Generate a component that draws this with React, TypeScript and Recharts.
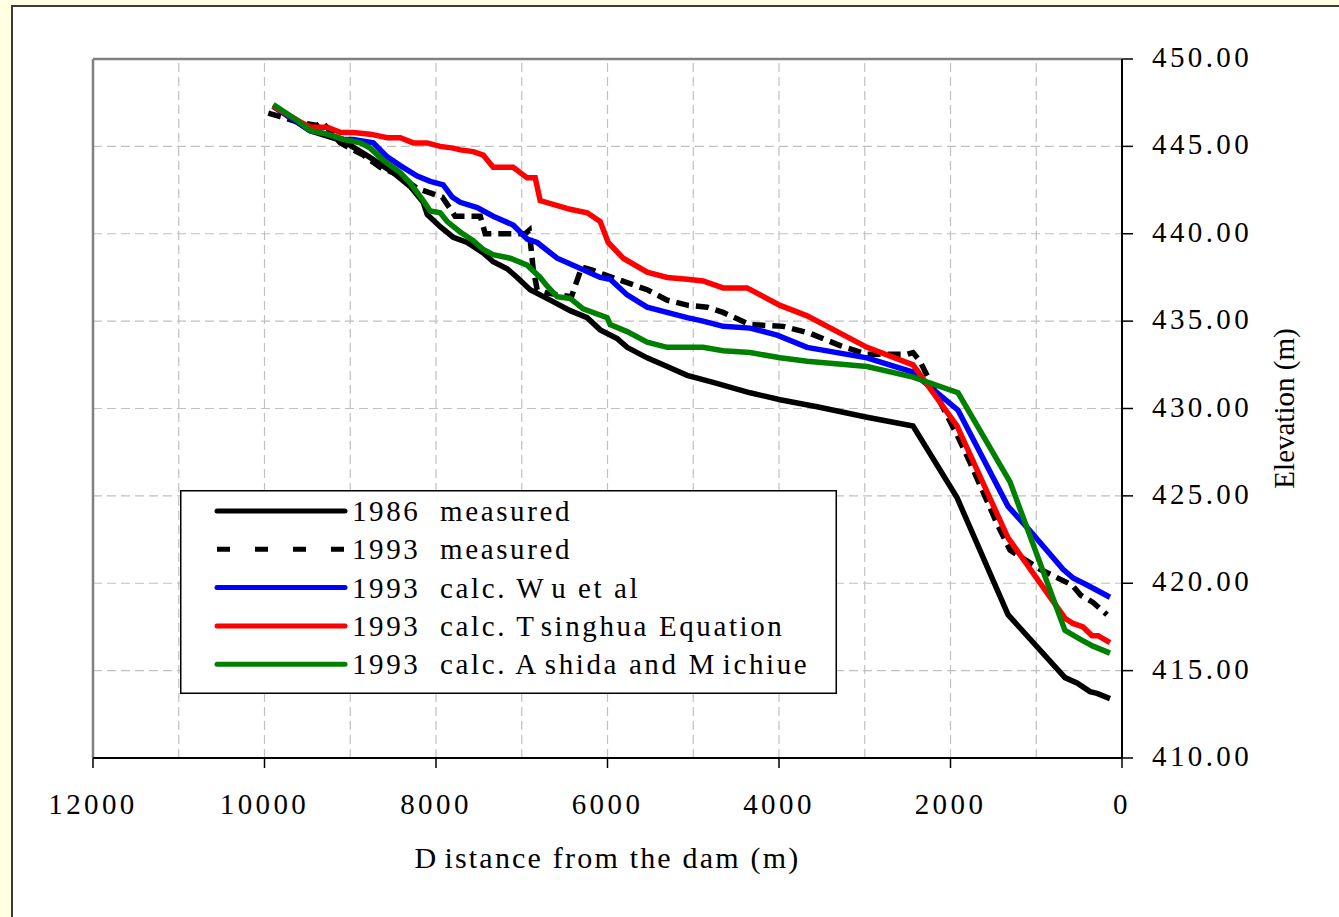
import React from 'react';
import { LineChart, Line, XAxis, YAxis, CartesianGrid, ReferenceLine, Legend, Label } from 'recharts';

const FONT = '"Liberation Serif", "Times New Roman", serif';

// ---- data (distance from the dam in m, elevation in m) ----
const dist1986 = [9900, 9470, 9080, 8780, 8499, 8300, 8149, 8102, 7951, 7799, 7636, 7449, 7333, 7170, 7053, 6902, 6668, 6435, 6237, 6085, 5887, 5771, 5538, 5304, 5071, 4768, 4337, 3987, 3556, 2973, 2437, 1924, 1329, 665, 525, 373, 291, 140];
const elev1986 = [447.3, 445.9, 445.3, 444.4, 443.5, 442.7, 441.8, 441.1, 440.4, 439.8, 439.5, 438.9, 438.4, 438.0, 437.5, 436.8, 436.2, 435.6, 435.2, 434.5, 434.0, 433.5, 432.9, 432.4, 431.9, 431.5, 430.9, 430.5, 430.1, 429.5, 429.0, 424.9, 418.2, 414.6, 414.3, 413.8, 413.7, 413.4];

const dist1993m = [9956, 9816, 9618, 9385, 9330, 9256, 9117, 8848, 8650, 8452, 8219, 7927, 7830, 7776, 7484, 7426, 6960, 6913, 6867, 6820, 6703, 6420, 6300, 6167, 6004, 5771, 5538, 5304, 5060, 4838, 4652, 4337, 3952, 3637, 3287, 2973, 2506, 2437, 2355, 2063, 1924, 1772, 1609, 1457, 1306, 956, 583, 478, 338, 175];
const elev1993m = [446.9, 446.7, 446.4, 446.2, 446.4, 446.0, 445.2, 444.5, 443.8, 443.4, 442.6, 442.1, 441.4, 441.0, 441.0, 440.0, 440.0, 440.2, 438.0, 436.8, 436.6, 436.4, 438.1, 437.9, 437.6, 437.2, 436.8, 436.2, 435.9, 435.8, 435.5, 434.8, 434.7, 434.3, 433.6, 433.1, 433.1, 433.2, 432.7, 429.8, 428.5, 426.9, 425.1, 423.4, 421.9, 420.8, 419.9, 419.3, 418.9, 418.2];

const distWu = [9900, 9466, 9268, 9082, 8965, 8732, 8569, 8417, 8219, 8067, 7916, 7811, 7718, 7519, 7333, 7100, 6937, 6820, 6587, 6354, 6085, 5969, 5771, 5538, 5071, 4885, 4652, 4337, 4022, 3672, 2973, 2450, 1912, 1329, 1108, 688, 571, 408, 140];
const elevWu = [447.3, 445.9, 445.7, 445.4, 445.4, 445.2, 444.4, 443.9, 443.3, 443.0, 442.8, 442.1, 441.8, 441.5, 441.0, 440.5, 439.7, 439.5, 438.6, 438.1, 437.5, 437.4, 436.5, 435.8, 435.2, 435.0, 434.7, 434.6, 434.2, 433.5, 432.9, 432.1, 429.9, 424.4, 423.2, 420.8, 420.3, 419.9, 419.2];

const distTs = [9900, 9583, 9466, 9268, 9117, 8965, 8767, 8569, 8417, 8265, 8102, 7951, 7799, 7718, 7566, 7449, 7333, 7100, 6937, 6843, 6785, 6435, 6237, 6085, 5992, 5817, 5538, 5304, 5071, 4885, 4652, 4372, 3987, 3672, 2973, 2437, 1924, 1329, 665, 571, 455, 350, 280, 140];
const elevTs = [447.3, 446.4, 446.1, 446.1, 445.8, 445.8, 445.7, 445.5, 445.5, 445.2, 445.2, 445.0, 444.9, 444.8, 444.7, 444.5, 443.8, 443.8, 443.2, 443.2, 441.9, 441.4, 441.2, 440.7, 439.5, 438.6, 437.8, 437.5, 437.4, 437.3, 436.9, 436.9, 435.9, 435.3, 433.5, 432.5, 429.0, 422.6, 418.0, 417.7, 417.5, 417.0, 417.0, 416.6];

const distAM = [9898, 9653, 9466, 9268, 9082, 8883, 8767, 8615, 8417, 8300, 8149, 8067, 7951, 7869, 7718, 7566, 7449, 7333, 7135, 6937, 6785, 6703, 6587, 6435, 6284, 6004, 5969, 5771, 5538, 5304, 4885, 4652, 4337, 3987, 3672, 2973, 2437, 1912, 1306, 665, 490, 338, 140];
const elevAM = [447.4, 446.6, 445.9, 445.7, 445.4, 445.2, 444.9, 444.2, 443.5, 442.9, 441.9, 441.3, 441.2, 440.7, 440.1, 439.6, 439.1, 438.8, 438.6, 438.2, 437.5, 437.0, 436.4, 436.3, 435.7, 435.2, 434.8, 434.4, 433.8, 433.5, 433.5, 433.3, 433.2, 432.9, 432.7, 432.4, 431.8, 430.9, 425.8, 417.3, 416.8, 416.4, 416.0];

const seriesNames = ['1986  measured', '1993  measured', '1993  calc. Wu et al', '1993  calc. Tsinghua Equation', '1993  calc. Ashida and Michiue'];
const seriesColors = ['#000000', '#000000', '#0000FF', '#FF0000', '#008000'];

const xTicks = [0, 2000, 4000, 6000, 8000, 10000, 12000];
const xGridValues = [1000, 2000, 3000, 4000, 5000, 6000, 7000, 8000, 9000, 10000, 11000];
const yTicks = [410, 415, 420, 425, 430, 435, 440, 445, 450];

const zip = (d: number[], e: number[]) => d.map((x, i) => ({ d: x, e: e[i] }));
const seriesData = [
  zip(dist1986, elev1986),
  zip(dist1993m, elev1993m),
  zip(distWu, elevWu),
  zip(distTs, elevTs),
  zip(distAM, elevAM),
];
const seriesDash = [undefined, '13 7', undefined, undefined, undefined];

// split text so that a capital letter starting a word is followed by a small gap (as in the original rendering)
const gapped = (text: string) => {
  const parts: { t: string; dx: number }[] = [];
  let cur = '';
  for (let i = 0; i < text.length; i++) {
    const c = text[i];
    cur += c;
    const prev = i > 0 ? text[i - 1] : ' ';
    const next = text[i + 1];
    if (prev === ' ' && /[WTAMD]/.test(c) && next && /[a-z]/.test(next)) {
      parts.push({ t: cur, dx: 0 });
      cur = '';
      parts.push({ t: '', dx: 6 });
    }
  }
  parts.push({ t: cur, dx: 0 });
  const out: any[] = [];
  let pendingDx = 0;
  parts.forEach((p, k) => {
    if (p.t === '') {
      pendingDx = p.dx;
      return;
    }
    out.push(
      <tspan key={k} dx={pendingDx || undefined}>
        {p.t}
      </tspan>
    );
    pendingDx = 0;
  });
  return out;
};

const XTick = (props: any) => {
  const { x, y, payload } = props;
  return (
    <text x={x} y={y} dy={46} textAnchor="middle" fontFamily={FONT} fontSize={29} letterSpacing={3.4} fill="#000">
      {payload.value}
    </text>
  );
};

const YTick = (props: any) => {
  const { x, y, payload } = props;
  return (
    <text x={x} y={y} dy={8} textAnchor="start" fontFamily={FONT} fontSize={29} letterSpacing={3.4} fill="#000">
      {Number(payload.value).toFixed(2)}
    </text>
  );
};

const renderLegend = (props: any) => {
  const payload = props.payload || [];
  const colorOf = (name: string, i: number) => {
    const p = payload.find((q: any) => q.value === name);
    return p ? p.color : seriesColors[i];
  };
  return (
    <svg width={657} height={204} style={{ display: 'block' }}>
      <rect x={0.75} y={0.75} width={655.5} height={202.5} fill="#ffffff" stroke="#000" strokeWidth={1.5} />
      {seriesNames.map((name, i) => {
        const dashed = !!seriesDash[i];
        const cy = 21 + i * 38.3;
        return (
          <g key={name}>
            <line x1={37} x2={165} y1={cy} y2={cy} stroke={colorOf(name, i)} strokeWidth={5}
              strokeDasharray={dashed ? '13 25' : undefined} strokeLinecap={dashed ? 'butt' : 'round'} />
            <text x={172} y={cy + 10} fontFamily={FONT} fontSize={29} letterSpacing={2.6} fill="#000" style={{ whiteSpace: 'pre' }}>
              {gapped(name)}
            </text>
          </g>
        );
      })}
    </svg>
  );
};

const XTitle = (props: any) => {
  const vb = props.viewBox || {};
  const cx = vb.x + vb.width / 2;
  return (
    <text x={cx} y={868} textAnchor="middle" fontFamily={FONT} fontSize={30} letterSpacing={2.2} fill="#000">
      <tspan>D</tspan><tspan dx={6}>istance from the dam (m)</tspan>
    </text>
  );
};

const YTitle = (props: any) => {
  const vb = props.viewBox || {};
  const cx = vb.x + 162;
  const cy = vb.y + vb.height / 2;
  return (
    <text x={cx} y={cy} transform={`rotate(-90, ${cx}, ${cy})`} textAnchor="middle" dominantBaseline="central"
      fontFamily={FONT} fontSize={29} fill="#000">
      Elevation (m)
    </text>
  );
};

export default function App() {
  return (
    <div style={{ position: 'absolute', left: 0, top: 0, width: 1339, height: 917, background: '#FFFFE1', overflow: 'hidden' }}>
      <div style={{ position: 'absolute', left: 11, top: 5, width: 1345, height: 925, background: '#ffffff', border: '2px solid #3a3a3a', boxSizing: 'border-box' }} />
      <div style={{ position: 'absolute', left: 0, top: 0 }}>
        <LineChart width={1339} height={917} margin={{ top: 59, right: 0, bottom: 0, left: 93 }}>
          <CartesianGrid vertical={false} stroke="#c0c0c0" strokeDasharray="9 5" strokeWidth={1.2} />
          {xGridValues.map((v) => (
            <ReferenceLine key={v} x={v} stroke="#c0c0c0" strokeDasharray="9 5" strokeWidth={1.2} />
          ))}
          <ReferenceLine y={450} stroke="#808080" strokeWidth={2.5} />
          <ReferenceLine x={12000} stroke="#808080" strokeWidth={2.5} />
          <XAxis
            type="number"
            dataKey="d"
            domain={[0, 12000]}
            ticks={xTicks}
            reversed
            allowDataOverflow
            height={159}
            tickSize={10}
            tickMargin={0}
            axisLine={{ stroke: '#000', strokeWidth: 2 }}
            tickLine={{ stroke: '#000', strokeWidth: 1.5 }}
            tick={<XTick />}
            interval={0}
          >
            <Label content={<XTitle />} />
          </XAxis>
          <YAxis
            type="number"
            dataKey="e"
            orientation="right"
            domain={[410, 450]}
            ticks={yTicks}
            allowDataOverflow
            width={217}
            tickSize={11}
            tickMargin={19}
            axisLine={{ stroke: '#000', strokeWidth: 2 }}
            tickLine={{ stroke: '#000', strokeWidth: 1.5 }}
            tick={<YTick />}
            interval={0}
          >
            <Label content={<YTitle />} />
          </YAxis>
          {seriesData.map((data, i) => (
            <Line
              key={seriesNames[i]}
              data={data}
              dataKey="e"
              name={seriesNames[i]}
              stroke={seriesColors[i]}
              strokeWidth={5.5}
              strokeDasharray={seriesDash[i]}
              dot={false}
              activeDot={false}
              type="linear"
              isAnimationActive={false}
            />
          ))}
          <Legend
            layout="horizontal"
            verticalAlign="middle"
            align="center"
            content={renderLegend}
            wrapperStyle={{ left: 180, top: 490, width: 657, height: 204 }}
          />
        </LineChart>
      </div>
    </div>
  );
}
